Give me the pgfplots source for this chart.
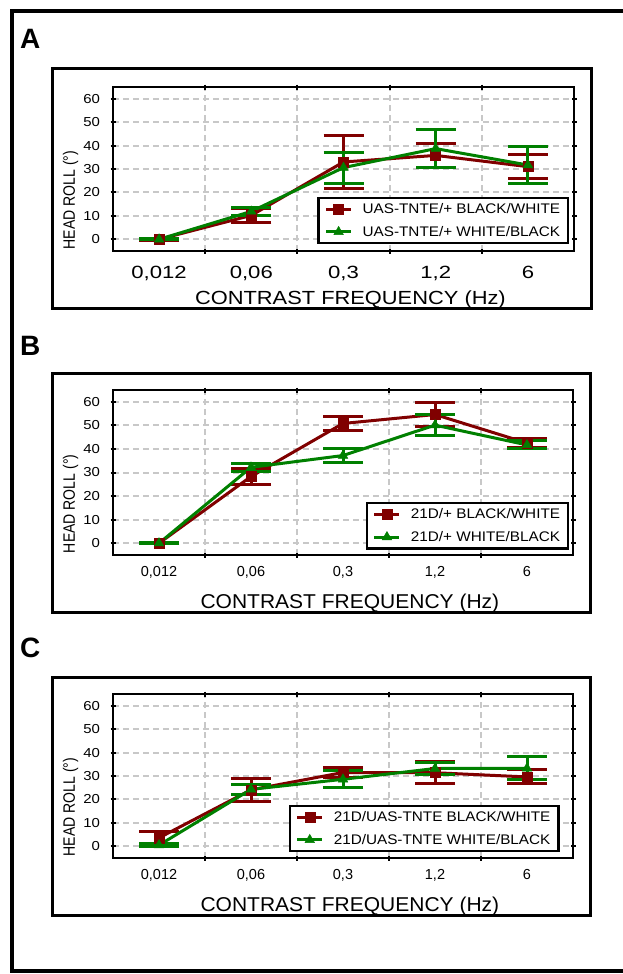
\documentclass[border=0pt]{standalone}
\usepackage{fontspec}
\setmainfont{Liberation Sans}
\newfontfamily\fA[FakeStretch=1.25]{Liberation Sans}
\newfontfamily\fW[FakeStretch=1.15]{Liberation Sans}
\newfontfamily\fL[FakeStretch=1.05]{Liberation Sans}
\newfontfamily\fG[FakeStretch=1.1]{Liberation Sans}
\newfontfamily\fN[FakeStretch=0.85]{Liberation Sans}
\usepackage{pgfplots}
\pgfplotsset{compat=1.18}
\definecolor{bwred}{RGB}{128,0,0}
\definecolor{wbgreen}{RGB}{0,128,0}
\definecolor{gridgray}{RGB}{200,200,200}

\pgfplotsset{
  panel/.style={
    scale only axis, anchor=south west, clip=false,
    xmin=-0.5, xmax=4.5, ymin=-5, ymax=65,
    xtick={0,1,2,3,4},
    xticklabels={{0,012},{0,06},{0,3},{1,2},6},
    minor xtick={0.5,1.5,2.5,3.5},
    major x tick style={draw=none},
    xminorgrids=true, ymajorgrids=true,
    ytick={0,10,...,60},
    major grid style={gridgray, line width=2pt, dash pattern=on 6pt off 4pt},
    minor grid style={gridgray, line width=2pt, dash pattern=on 6pt off 4pt},
    axis line style={line width=2.5pt},
    tick align=center, major tick length=5pt, minor tick length=5pt,
    every tick/.style={black, line width=2pt},
    /pgf/number format/assume math mode=true,
    yticklabel style={font=\fW\fontsize{13}{15}\selectfont, xshift=-7pt},
    xticklabel style={font=\fontsize{14.5}{17}\selectfont, yshift=-5pt},
    ylabel={HEAD ROLL (°)},
    ylabel style={font=\fN\fontsize{16.5}{19}\selectfont,
      at={(axis description cs:-0.092,0.31)}, anchor=center},
    xlabel={CONTRAST FREQUENCY (Hz)},
    xlabel style={font=\fL\fontsize{20}{23}\selectfont,
      at={(axis description cs:0.515,0)}, anchor=base, yshift=-53pt},
    legend cell align=left,
    legend style={font=\fG\fontsize{13.9}{16}\selectfont, draw=black,
      line width=2.5pt, inner xsep=6pt, inner ysep=3.5pt, row sep=7pt,
      /tikz/every odd column/.append style={column sep=8pt}},
    legend image code/.code={
      \draw[mark repeat=2, mark phase=2, #1]
        plot coordinates {(0pt,0pt) (12.5pt,0pt) (25pt,0pt)};},
  },
  bw/.style={bwred, line width=3pt, mark=square*, mark size=5pt,
    mark options={solid, line width=0.5pt},
    error bars/.cd, y dir=both, y explicit,
    error bar style={line width=3pt},
    error mark=|,
    error mark options={mark size=20pt, line width=3pt, bwred}},
  wb/.style={wbgreen, line width=3pt, mark=triangle*, mark size=5.5pt,
    mark options={solid, line width=0.5pt},
    error bars/.cd, y dir=both, y explicit,
    error bar style={line width=3pt},
    error mark=|,
    error mark options={mark size=20pt, line width=3pt, wbgreen}},
}

\begin{document}
\begin{tikzpicture}[x=1pt, y=1pt]
\useasboundingbox (0,0) rectangle (623,-974);

% outer frame (open to the right)
\draw[line width=4.5pt] (660,-11) -- (12,-11) -- (12,-971) -- (660,-971);

% panel frames
\draw[line width=3pt] (52,-69) rectangle (591,-308);
\draw[line width=3pt] (52,-373) rectangle (590,-612);
\draw[line width=3pt] (52,-677) rectangle (590,-915);

% panel letters
\node[anchor=base west, inner sep=0pt, font=\bfseries\fontsize{28}{30}\selectfont] at (20,-48.5) {A};
\node[anchor=base west, inner sep=0pt, font=\bfseries\fontsize{28}{30}\selectfont] at (20,-355) {B};
\node[anchor=base west, inner sep=0pt, font=\bfseries\fontsize{28}{30}\selectfont] at (20,-657) {C};

% ---------- A ----------
\begin{axis}[panel, at={(113pt,-251pt)}, width=461pt, height=164pt,
  xticklabel style={font=\fA\fontsize{17.7}{20}\selectfont, yshift=-4pt},
  xlabel style={font=\fW\fontsize{19}{22}\selectfont},
  legend style={at={(0.990,0.04)}, anchor=south east}]
\addplot[bw] coordinates {
  (0,0) +- (0,0.5) (1,10.2) +- (0,3.1) (2,33) +- (0,11.5)
  (3,35.8) +- (0,5.2) (4,31) +- (0,5)};
\addlegendentry{UAS-TNTE/+ BLACK/WHITE}
\addplot[wb] coordinates {
  (0,0) +- (0,0.2) (1,11.9) +- (0,1.8) (2,30.6) +- (0,6.6)
  (3,38.7) +- (0,8.2) (4,31.7) +- (0,7.7)};
\addlegendentry{UAS-TNTE/+ WHITE/BLACK}
\end{axis}

% ---------- B ----------
\begin{axis}[panel, at={(113pt,-555pt)}, width=460pt, height=165pt,
  legend style={at={(0.992,0.033)}, anchor=south east}]
\addplot[bw] coordinates {
  (0,0) +- (0,0.3) (1,28.3) +- (0,3.3) (2,50.8) +- (0,3.1)
  (3,54.6) +- (0,5) (4,42.5) +- (0,2)};
\addlegendentry{21D/+ BLACK/WHITE}
\addplot[wb] coordinates {
  (0,0) +- (0,0.2) (1,32.2) +- (0,1.7) (2,37.2) +- (0,2.9)
  (3,50.1) +- (0,4.5) (4,41.7) +- (0,1.7)};
\addlegendentry{21D/+ WHITE/BLACK}
\end{axis}

% ---------- C ----------
\begin{axis}[panel, at={(113pt,-858pt)}, width=460pt, height=164pt,
  legend style={at={(0.971,0.034)}, anchor=south east}]
\addplot[bw] coordinates {
  (0,3.6) +- (0,2.7) (1,24.1) +- (0,4.9) (2,31.5) +- (0,2.1)
  (3,31.4) +- (0,4.8) (4,29.6) +- (0,3)};
\addlegendentry{21D/UAS-TNTE BLACK/WHITE}
\addplot[wb] coordinates {
  (0,0.5) +- (0,0.5) (1,24.3) +- (0,2) (2,28.6) +- (0,3.7)
  (3,33.2) +- (0,2.6) (4,33.3) +- (0,4.9)};
\addlegendentry{21D/UAS-TNTE WHITE/BLACK}
\end{axis}
\end{tikzpicture}
\end{document}
